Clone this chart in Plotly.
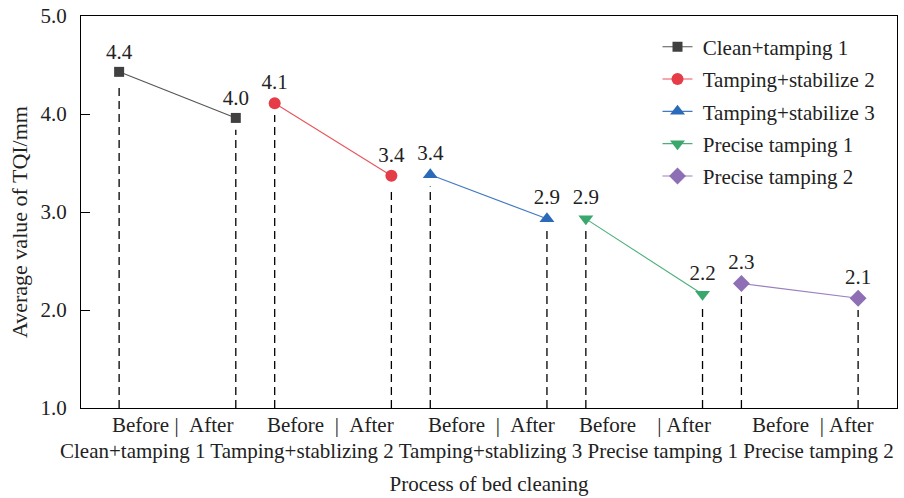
import plotly.graph_objects as go

groups = ["Clean+tamping 1", "Tamping+stabilize 2", "Tamping+stabilize 3",
          "Precise tamping 1", "Precise tamping 2"]
group_labels = ["Clean+tamping 1", "Tamping+stablizing 2", "Tamping+stablizing 3",
                "Precise tamping 1", "Precise tamping 2"]
before_vals = [4.43, 4.11, 3.38, 2.93, 2.27]
after_vals = [3.96, 3.37, 2.93, 2.16, 2.12]
phase_labels = ["Before", "After"]
x_title = "Process of bed cleaning"
y_title = "Average value of TQI/mm"

# styling
colors = ["#404040", "#e63c47", "#2b6ab8", "#3aa76d", "#8e6fb5"]
line_colors = ["#555555", "#ea535b", "#4279c2", "#4caf7b", "#9a7fbd"]
symbols = ["square", "circle", "triangle-up", "triangle-down", "diamond"]
msizes = [10, 12, 13, 13, 13]
NB = "\u00a0"
sep_left = [NB, NB * 2, NB * 2, NB * 4, NB * 2]
sep_right = [NB * 2, NB * 2, NB * 2, NB, NB]
label_xshift = [-5, -3, 3, 1, 13]

FONT = "Liberation Serif"
FS = 21
pitch = 1.0
inner = 0.75
gap = 0.12

fig = go.Figure()

# dashed drop lines
dx, dy = [], []
for i in range(len(groups)):
    for j, v in enumerate([before_vals[i], after_vals[i]]):
        x = i * pitch + j * inner
        dx += [x, x, None]
        dy += [1.0, v - gap, None]
fig.add_trace(go.Scatter(x=dx, y=dy, mode="lines", showlegend=False, hoverinfo="skip",
                         line=dict(color="black", width=1.3, dash="8px,5px")))

for i, g in enumerate(groups):
    xs = [i * pitch, i * pitch + inner]
    ys = [before_vals[i], after_vals[i]]
    fig.add_trace(go.Scatter(
        x=xs, y=ys, name=NB + g, legendgroup=g, mode="lines+markers+text",
        text=[f"{v:.1f}" for v in ys], textposition="top center",
        textfont=dict(family=FONT, size=FS, color="#222"),
        line=dict(color=line_colors[i], width=1.1),
        marker=dict(symbol=symbols[i], size=msizes[i], color=colors[i]),
    ))

# x tick labels: Before | After
for i in range(len(groups)):
    fig.add_annotation(x=i * pitch + inner / 2, y=0, xref="x", yref="paper",
                       xshift=label_xshift[i], yshift=-3, yanchor="top", showarrow=False,
                       text=f"{phase_labels[0]}{sep_left[i]}|{sep_right[i]}{phase_labels[1]}",
                       font=dict(family=FONT, size=FS, color="#222"))

fig.add_annotation(x=(477 - 81) / 816, y=0, xref="paper", yref="paper", yshift=-29,
                   yanchor="top", showarrow=False, text=" ".join(group_labels),
                   font=dict(family=FONT, size=FS, color="#222"))

# y axis title
fig.add_annotation(x=(19 - 81) / 816, y=(408 - 222) / 392, xref="paper", yref="paper",
                   xanchor="center", yanchor="middle", textangle=-90, showarrow=False,
                   text=y_title, font=dict(family=FONT, size=22, color="#222"))

fig.update_layout(
    width=904, height=498,
    margin=dict(l=81, r=7, t=16, b=90),
    plot_bgcolor="white", paper_bgcolor="white",
    font=dict(family=FONT, size=FS, color="#222"),
    legend=dict(x=0.7065, y=0.973, xanchor="left", yanchor="top",
                font=dict(family=FONT, size=FS), tracegroupgap=2,
                bgcolor="rgba(0,0,0,0)"),
    xaxis=dict(range=[-0.245, 5.0], showticklabels=False, showgrid=False, zeroline=False,
               showline=True, linecolor="black", linewidth=1, mirror=True, ticks="",
               automargin=False,
               title=dict(text=x_title, standoff=68,
                          font=dict(family=FONT, size=FS))),
    yaxis=dict(range=[1, 5], dtick=1, tickformat=".1f", showgrid=False, zeroline=False,
               showline=True, linecolor="black", linewidth=1, mirror=True,
               ticks="inside", ticklen=9, tickcolor="black", automargin=False,
               ticklabelstandoff=9, ticklabeloverflow="allow",
               tickfont=dict(family=FONT, size=FS)),
)

fig.write_html("out.html", config={"displayModeBar": False},
               post_script="document.body.style.margin='0';document.body.style.overflow='hidden';")
